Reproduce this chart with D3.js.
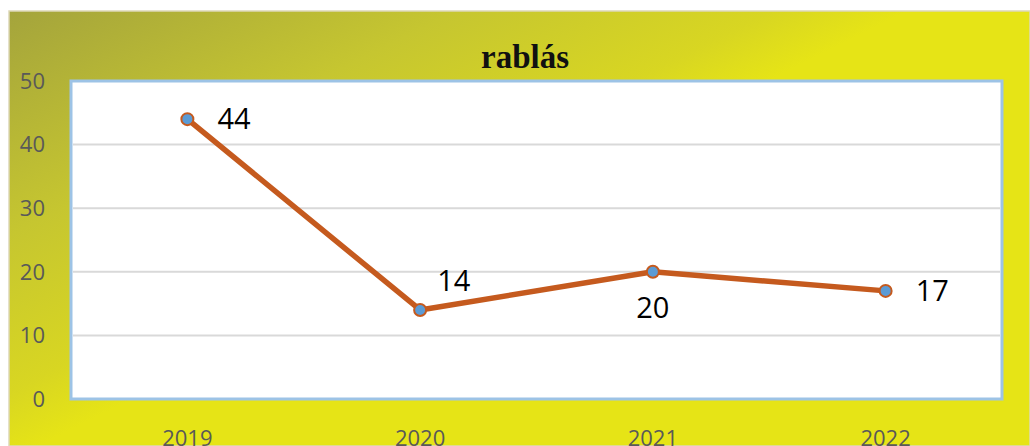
<!DOCTYPE html>
<html lang="en">
<head>
    <meta charset="UTF-8">
    <title>rablás</title>
    <script src="https://d3js.org/d3.v7.min.js"></script>
    <style>
        body { margin: 0; background: #fff; }
        .tick-label { font-family: "Open Sans", "Noto Sans", sans-serif; font-size: 22px; fill: #595959; }
        .value-label { font-family: "Open Sans", "Noto Sans", sans-serif; font-size: 29px; fill: #000; }
        .title { font-family: "Liberation Serif", "DejaVu Serif", serif; font-size: 33px; font-weight: bold; fill: #111; }
    </style>
</head>
<body>
    <svg width="1030" height="446"></svg>
    <script>
        const years = ["2019", "2020", "2021", "2022"];
        const values = [44, 14, 20, 17];
        const yTicks = [0, 10, 20, 30, 40, 50];
        // where each data label sits relative to its point
        const labelPos = ["right", "above-right", "below", "right"];

        const width = 1030, height = 446;
        const svg = d3.select("svg");
        const plot = { left: 71, top: 81, right: 1002, bottom: 399 };

        const defs = svg.append("defs");
        const grad = defs.append("linearGradient")
            .attr("id", "bg").attr("gradientUnits", "userSpaceOnUse")
            .attr("x1", 10).attr("y1", 10).attr("x2", 190).attr("y2", 370);
        grad.append("stop").attr("offset", "0%").attr("stop-color", "#a4a43c");
        grad.append("stop").attr("offset", "50%").attr("stop-color", "#c6c630");
        grad.append("stop").attr("offset", "85%").attr("stop-color", "#d8d622");
        grad.append("stop").attr("offset", "100%").attr("stop-color", "#e6e416");

        svg.append("rect").attr("x", 9).attr("y", 11).attr("width", width - 9).attr("height", height - 11)
            .attr("fill", "url(#bg)").attr("stroke", "#ddd8b8").attr("stroke-width", 1.5);

        svg.append("text").attr("class", "title").attr("x", 525).attr("y", 68)
            .attr("text-anchor", "middle").text("rablás");

        const x = d3.scalePoint().domain(years).range([plot.left, plot.right]).padding(0.5);
        const y = d3.scaleLinear().domain([0, 50]).range([plot.bottom, plot.top]);

        svg.append("rect").attr("x", plot.left).attr("y", plot.top)
            .attr("width", plot.right - plot.left).attr("height", plot.bottom - plot.top)
            .attr("fill", "#fff").attr("stroke", "#9dc3e6").attr("stroke-width", 3);

        svg.append("g").selectAll("line")
            .data(yTicks.filter(d => d > 0 && d < 50))
            .enter().append("line")
            .attr("x1", plot.left + 2).attr("x2", plot.right - 2)
            .attr("y1", d => y(d)).attr("y2", d => y(d))
            .attr("stroke", "#d9d9d9").attr("stroke-width", 2);

        svg.append("g").selectAll("text")
            .data(yTicks)
            .enter().append("text")
            .attr("class", "tick-label")
            .attr("x", 45).attr("y", d => y(d)).attr("dy", "0.35em")
            .attr("text-anchor", "end").text(d => d);

        // category labels sit at the very bottom edge, clipped like the original
        svg.append("g").selectAll("text")
            .data(years)
            .enter().append("text")
            .attr("class", "tick-label")
            .attr("x", d => x(d)).attr("y", 446)
            .attr("text-anchor", "middle").text(d => d);

        const pts = years.map((yr, i) => ({ year: yr, value: values[i], pos: labelPos[i] }));

        svg.append("path").datum(pts)
            .attr("fill", "none").attr("stroke", "#c55a1e").attr("stroke-width", 5.5)
            .attr("stroke-linejoin", "round")
            .attr("d", d3.line().x(d => x(d.year)).y(d => y(d.value)));

        svg.append("g").selectAll("circle")
            .data(pts)
            .enter().append("circle")
            .attr("cx", d => x(d.year)).attr("cy", d => y(d.value)).attr("r", 6)
            .attr("fill", "#5b9bd5").attr("stroke", "#c55a1e").attr("stroke-width", 2);

        svg.append("g").selectAll("text")
            .data(pts)
            .enter().append("text")
            .attr("class", "value-label")
            .attr("x", d => x(d.year) + (d.pos === "right" ? 30 : d.pos === "above-right" ? 17 : 0))
            .attr("y", d => y(d.value) + (d.pos === "above-right" ? -29 : d.pos === "below" ? 36 : 0))
            .attr("dy", "0.35em")
            .attr("text-anchor", d => d.pos === "below" ? "middle" : "start")
            .text(d => d.value);
    </script>
</body>
</html>
